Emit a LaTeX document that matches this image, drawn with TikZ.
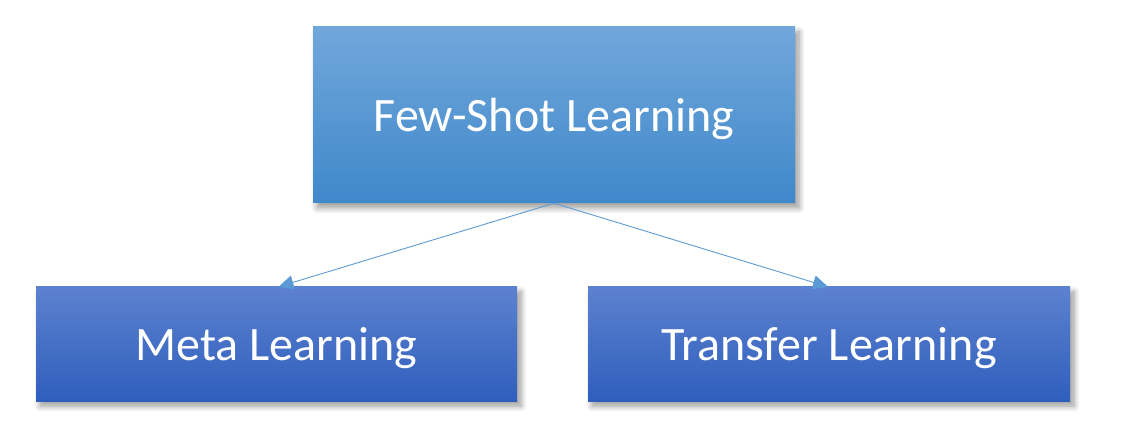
\documentclass[tikz,border=0pt]{standalone}
\usepackage{fontspec}
\setmainfont{Carlito}
\usetikzlibrary{arrows.meta, shadows.blur}

\definecolor{topTop}{HTML}{71A7DB}
\definecolor{topBot}{HTML}{3F88CA}
\definecolor{subTop}{HTML}{5C81CF}
\definecolor{subBot}{HTML}{2F5FBD}
\definecolor{linkBlue}{HTML}{5B9BD5}

\tikzset{
  mainbox/.style={rectangle, top color=topTop, bottom color=topBot, draw=none,
    text=white, font=\fontsize{48}{56}\selectfont, text depth=0pt,
    blur shadow={shadow xshift=4pt, shadow yshift=-5pt, shadow blur radius=6pt, shadow blur steps=8, shadow opacity=40}},
  subbox/.style={mainbox, top color=subTop, bottom color=subBot},
  link/.style={draw=linkBlue, line width=0.9pt, -{Triangle[length=15pt, width=14pt]}}
}

\begin{document}
\begin{tikzpicture}[x=1pt,y=1pt]
\useasboundingbox (0,0) rectangle (1124,442);
\node[mainbox, minimum width=482pt, minimum height=176pt] (fsl) at (554,327) {Few-Shot Learning};
\node[subbox, minimum width=481pt, minimum height=114pt] (meta) at (276.5,98) {Meta Learning};
\node[subbox, minimum width=482pt, minimum height=114pt] (transfer) at (829,98) {Transfer Learning};
\draw[link] (fsl.south) -- ([xshift=2pt]meta.north);
\draw[link] (fsl.south) -- ([xshift=-1pt]transfer.north);
\end{tikzpicture}
\end{document}
